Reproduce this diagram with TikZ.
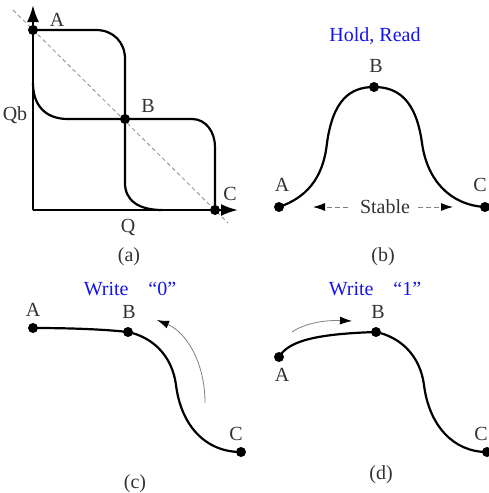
\documentclass[tikz,border=0pt]{standalone}
\usepackage{fontspec}
\setmainfont{Liberation Serif}
\usetikzlibrary{arrows.meta}
\definecolor{lbl}{RGB}{50,50,50}
\definecolor{ttl}{RGB}{20,20,235}
\begin{document}
\begin{tikzpicture}[x=1pt,y=-1pt,
  dot/.style={circle,fill=black,inner sep=0pt,minimum size=10pt},
  lab/.style={text=lbl,font=\fontsize{20}{22}\selectfont,inner sep=0pt},
  ttlab/.style={text=ttl,font=\fontsize{20}{22}\selectfont,inner sep=0pt},
  curve/.style={line width=2.2pt,line cap=round},
  thin arrow/.style={draw=gray,line width=0.8pt,-{Latex[length=12pt,width=8pt,black]}},
  dash arrow/.style={draw=gray,line width=0.9pt,dash pattern=on 5pt off 3pt,-{Latex[length=12pt,width=8pt,black]}}]
\useasboundingbox (0,0) rectangle (489,493);
% ---------------- (a)
\coordinate (O) at (33,210);
\coordinate (Ytip) at (33,5);
\coordinate (Xtip) at (238,210);
\coordinate (D1) at (13,10);
\coordinate (D2) at (228,223);
\draw[black!45,line width=0.8pt,dash pattern=on 4pt off 3pt] (D1) -- (D2);
\draw[line width=2.2pt,-{Latex[length=17pt,width=12pt]}] (O) -- (Ytip);
\draw[line width=2.2pt,-{Latex[length=17pt,width=12pt]}] (O) -- (Xtip);
\node[dot] (aA) at (33,30) {};
\node[dot] (aB) at (125,119) {};
\node[dot] (aC) at (215,210) {};
\draw[curve] (aA.center) -- (96,30) .. controls (113,30) and (125,42) .. (125,59)
  -- (aB.center) -- (125,183) .. controls (125,200) and (138,210) .. (162,210);
\draw[curve] (33,83) .. controls (33,105) and (45,119) .. (68,119)
  -- (aB.center) -- (192,119) .. controls (206,119) and (215,132) .. (215,147) -- (aC.center);
\node[lab] (aAl) at (57,20) {A};
\node[lab] (aBl) at (148,106) {B};
\node[lab] (aCl) at (230,194) {C};
\node[lab] (aQb) at (15,115) {Qb};
\node[lab] (aQ) at (128,227) {Q};
\node[lab] (acap) at (129,257) {(a)};
% ---------------- (b)
\node[ttlab] (btitle) at (375,36) {Hold, Read};
\node[dot] (bA) at (279,207) {};
\node[dot] (bB) at (374,87) {};
\node[dot] (bC) at (485,207) {};
\draw[curve] (bA.center) .. controls (305,198) and (323,180) .. (327,143)
  .. controls (333,100) and (350,87) .. (bB.center)
  .. controls (398,87) and (416,100) .. (422,143)
  .. controls (427,180) and (450,205) .. (bC.center);
\node[lab] (bAl) at (282,185) {A};
\node[lab] (bBl) at (376,66) {B};
\node[lab] (bCl) at (480,185) {C};
\node[lab] (bst) at (385,207) {Stable};
\coordinate (bL1) at (348,207);
\coordinate (bL2) at (313,207);
\coordinate (bR1) at (418,207);
\coordinate (bR2) at (453,207);
\draw[dash arrow] (bL1) -- (bL2);
\draw[dash arrow] (bR1) -- (bR2);
\node[lab] (bcap) at (383,257) {(b)};
% ---------------- (c)
\node[ttlab] (ctitle) at (130,289) {Write\quad “0”};
\node[dot] (cA) at (33,328) {};
\node[dot] (cB) at (128,332) {};
\node[dot] (cC) at (241,452) {};
\draw[curve] (cA.center) .. controls (80,328) and (110,330) .. (cB.center)
  .. controls (152,337) and (172,355) .. (176,385)
  .. controls (181,425) and (205,452) .. (cC.center);
\node[lab] (cAl) at (33,310) {A};
\node[lab] (cBl) at (129,312) {B};
\node[lab] (cCl) at (236,434) {C};
\coordinate (cs) at (205,403);
\coordinate (ce) at (157,320);
\draw[thin arrow] (cs) .. controls (205,362) and (186,332) .. (ce);
\node[lab] (ccap) at (135,484) {(c)};
% ---------------- (d)
\node[ttlab] (dtitle) at (375,289) {Write\quad “1”};
\node[dot] (dA) at (279,357) {};
\node[dot] (dB) at (376,332) {};
\node[dot] (dC) at (487,452) {};
\draw[curve] (dA.center) .. controls (288,342) and (312,334) .. (dB.center)
  .. controls (400,337) and (420,355) .. (424,385)
  .. controls (429,425) and (453,452) .. (dC.center);
\node[lab] (dAl) at (282,375) {A};
\node[lab] (dBl) at (378,312) {B};
\node[lab] (dCl) at (481,434) {C};
\coordinate (ds) at (292,332);
\coordinate (de) at (352,321);
\draw[thin arrow] (ds) .. controls (305,323) and (325,320) .. (de);
\node[lab] (dcap) at (381,475) {(d)};
\end{tikzpicture}
\end{document}
